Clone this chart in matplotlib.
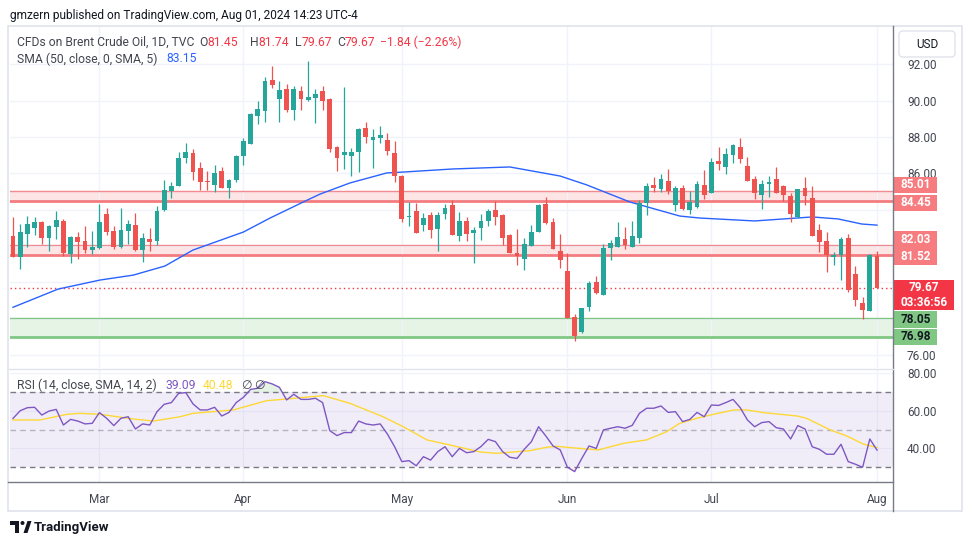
"""Brent crude daily candles with SMA 50 and RSI panel, TradingView look."""

import matplotlib
matplotlib.use("Agg")
import matplotlib.pyplot as plt
import matplotlib.transforms as mtransforms
from matplotlib.patches import Rectangle, FancyBboxPatch, Polygon, Circle
import numpy as np

# ---- data (bar index 0 = first visible session) ----
opens = [82.55, 81.41, 82.66, 83.01, 83.32, 82.46, 83.06, 83.38, 81.58, 82.50,
         82.27, 81.80, 81.89, 83.76, 82.83, 81.96, 82.83, 83.16, 81.78, 82.39,
         82.27, 83.98, 85.04, 85.32, 86.86, 87.10, 86.28, 85.56, 85.36, 86.13,
         85.21, 85.63, 86.97, 87.63, 89.17, 89.45, 91.14, 90.11, 90.64, 89.48,
         90.53, 90.05, 90.12, 90.53, 90.11, 87.45, 87.02, 86.97, 87.19, 88.49,
         87.85, 87.96, 87.83, 87.12, 85.85, 83.60, 83.94, 83.16, 83.71, 82.94,
         83.76, 84.26, 82.55, 83.38, 82.73, 83.01, 83.39, 83.98, 83.71, 82.61,
         81.61, 81.30, 82.00, 82.79, 84.31, 83.32, 81.72, 80.62, 78.09, 77.27,
         78.66, 80.02, 79.32, 81.91, 81.96, 82.39, 81.96, 82.46, 84.38, 85.36,
         85.14, 85.58, 84.26, 85.19, 84.00, 84.16, 85.36, 84.90, 86.68, 86.36,
         87.02, 87.45, 86.40, 85.69, 84.81, 85.41, 85.69, 85.30, 84.75, 83.60,
         85.19, 84.64, 82.88, 82.28, 81.39, 81.50, 82.44, 80.46, 78.86, 78.42,
         81.45]
highs = [83.58, 83.21, 83.65, 83.60, 83.40, 83.15, 83.93, 83.49, 82.55, 82.77,
         83.10, 82.83, 84.31, 84.09, 83.10, 84.09, 83.43, 83.82, 82.72, 82.99,
         84.20, 85.63, 85.54, 87.19, 87.67, 87.32, 86.62, 86.13, 86.46, 86.36,
         85.68, 87.00, 87.96, 89.30, 89.98, 91.30, 91.91, 91.08, 90.90, 90.80,
         90.83, 92.18, 90.63, 90.79, 90.17, 87.50, 90.75, 87.40, 88.49, 88.82,
         88.44, 88.60, 88.20, 87.78, 85.90, 84.44, 84.37, 83.82, 83.87, 83.87,
         84.31, 84.53, 83.87, 83.60, 83.05, 83.76, 84.04, 84.48, 83.75, 82.65,
         82.94, 82.44, 83.16, 84.31, 84.70, 83.54, 82.66, 81.61, 78.25, 78.59,
         80.07, 80.35, 82.11, 82.35, 83.32, 83.05, 83.38, 84.53, 85.47, 85.80,
         85.96, 86.24, 85.30, 85.36, 85.03, 85.58, 86.18, 86.84, 87.45, 87.39,
         87.60, 87.94, 86.90, 85.86, 85.63, 85.86, 86.35, 85.36, 84.92, 85.14,
         85.80, 85.30, 83.21, 82.77, 81.67, 82.50, 82.66, 80.90, 79.19, 81.56,
         81.74]
lows = [81.40, 80.75, 81.96, 82.60, 82.13, 81.74, 82.40, 81.45, 81.08, 81.30,
        81.63, 81.58, 81.85, 82.60, 81.82, 81.89, 82.11, 81.73, 81.14, 81.73,
        82.05, 83.90, 84.66, 85.30, 86.55, 85.63, 85.08, 85.08, 84.99, 85.20,
        84.66, 85.54, 86.46, 87.60, 88.71, 88.84, 90.71, 88.84, 89.36, 88.92,
        89.48, 90.00, 88.77, 89.48, 87.19, 86.13, 86.24, 85.87, 86.09, 87.69,
        86.31, 87.69, 87.02, 85.54, 83.34, 83.10, 82.70, 82.83, 82.44, 81.73,
        83.49, 82.60, 82.28, 82.28, 81.08, 82.33, 83.10, 83.15, 82.06, 81.60,
        80.97, 80.68, 82.00, 82.79, 83.20, 81.85, 80.81, 78.04, 76.77, 77.20,
        78.44, 79.36, 79.32, 81.25, 81.96, 81.83, 81.96, 82.18, 83.72, 84.99,
        85.00, 84.86, 83.93, 83.99, 83.77, 84.10, 84.59, 84.90, 86.20, 85.98,
        86.58, 86.55, 85.59, 84.59, 84.04, 84.70, 84.90, 84.48, 83.32, 83.54,
        84.26, 82.55, 81.67, 80.57, 80.95, 80.13, 79.47, 78.70, 78.00, 78.42,
        79.67]
closes = [81.41, 82.77, 83.21, 83.32, 82.46, 83.10, 83.43, 81.63, 82.50, 82.22,
          81.78, 81.94, 83.32, 82.77, 81.96, 82.88, 83.21, 81.78, 82.44, 82.22,
          83.93, 85.08, 85.30, 86.83, 87.17, 86.09, 85.54, 85.52, 86.02, 85.21,
          85.63, 86.95, 87.78, 89.26, 89.54, 91.08, 90.88, 90.59, 89.48, 90.66,
          90.09, 90.20, 90.37, 89.98, 87.34, 86.83, 87.17, 87.17, 88.44, 88.02,
          88.00, 88.11, 87.24, 85.87, 83.50, 83.66, 82.73, 83.54, 82.88, 83.71,
          84.09, 82.61, 83.38, 82.66, 82.88, 83.38, 83.93, 83.61, 82.46, 81.63,
          81.47, 82.11, 82.77, 84.26, 83.28, 81.85, 81.25, 78.04, 77.05, 78.59,
          79.96, 79.41, 81.89, 82.17, 82.50, 82.06, 82.55, 84.37, 85.30, 85.21,
          85.69, 85.03, 85.19, 84.04, 84.42, 85.41, 84.81, 86.62, 86.53, 87.06,
          87.56, 86.80, 85.59, 84.93, 85.41, 85.52, 84.93, 84.81, 83.76, 85.14,
          84.75, 82.55, 82.22, 81.50, 81.50, 82.39, 79.58, 79.03, 78.48, 81.51,
          79.67]

sma_bars = [0, 6.25, 12.1, 16.7, 21.1, 25, 32, 35.7, 40.3, 42.6, 46.8, 51.9,
            54.2, 61.1, 69, 76, 79.7, 85.7, 92.6, 95.4, 103, 111, 114.6, 117.9, 120]
sma_vals = [78.63, 79.63, 80.13, 80.40, 80.90, 81.78, 82.77, 83.54, 84.42, 84.85,
            85.47, 86.02, 86.07, 86.24, 86.35, 85.85, 85.36, 84.42, 83.65, 83.54,
            83.38, 83.60, 83.49, 83.21, 83.15]

rsi_vals = [55.9, 60.0, 61.6, 61.8, 57.7, 59.8, 60.7, 52.4, 55.4, 54.5,
            53.0, 53.3, 59.0, 56.0, 52.1, 56.0, 56.8, 50.3, 53.0, 52.4,
            59.5, 63.4, 64.3, 69.2, 69.6, 63.6, 60.4, 60.4, 61.8, 57.2,
            59.1, 64.3, 67.1, 71.3, 71.9, 75.4, 74.2, 72.4, 65.7, 68.7,
            66.0, 66.0, 66.6, 64.3, 49.4, 46.8, 48.4, 48.4, 54.5, 53.0,
            52.4, 53.0, 47.6, 40.9, 33.0, 33.5, 30.8, 35.6, 33.8, 38.3,
            40.9, 35.6, 40.0, 37.7, 38.3, 41.0, 44.8, 43.6, 38.3, 35.3,
            34.7, 39.5, 43.6, 51.5, 46.6, 41.3, 39.2, 30.0, 27.7, 34.7,
            41.3, 40.0, 49.8, 50.7, 51.5, 50.7, 52.2, 58.6, 61.3, 61.3,
            62.5, 59.1, 59.5, 54.2, 55.4, 59.1, 56.8, 63.0, 62.8, 64.3,
            66.0, 61.6, 55.1, 51.5, 53.7, 54.2, 51.0, 50.3, 45.0, 52.1,
            50.3, 40.9, 39.5, 36.9, 36.9, 42.2, 33.0, 31.6, 30.0, 45.0,
            39.09]

rsi_ma_bars = [0, 3.75, 7.5, 9.3, 12.1, 16.7, 19.5, 23.2, 25, 30.6, 35.2, 38,
               43.1, 46.8, 51.4, 54.2, 57.5, 60.7, 64.9, 67.2, 71.8, 74.1, 75.5,
               78.7, 81.3, 84.8, 88, 90.8, 92.6, 95, 97.3, 100.1, 101.9, 104.2,
               108.9, 110.2, 113.5, 115.8, 118.1, 120]
rsi_ma_vals = [55.1, 55.1, 58.1, 58.6, 58.1, 55.6, 54.5, 56.8, 58.6, 60.4, 65.3,
               66.2, 68.0, 63.9, 56.8, 51.5, 44.5, 41.8, 38.1, 37.4, 38.8, 40.6,
               41.1, 40.0, 39.2, 42.7, 44.5, 48.9, 53.3, 56.0, 58.1, 60.4, 60.4,
               59.0, 57.2, 56.0, 49.8, 46.6, 42.3, 40.48]

month_labels = ["Mar", "Apr", "May", "Jun", "Jul", "Aug"]
month_bars = [12, 32, 54, 77, 97, 120]
price_ticks = [76, 78, 80, 82, 84, 86, 88, 90, 92]
hidden_price_ticks = [78, 80, 82, 84]   # covered by the price tags
rsi_ticks = [40, 60, 80]

resistance_zones = [(84.45, 85.01), (81.52, 82.03)]
support_zone = (76.98, 78.05)
last_price = 79.67
sma_last = 83.15
rsi_last, rsi_ma_last = 39.09, 40.48

GREEN = "#26a69a"
RED = "#ef5350"
GRID = "#f0f3fa"
TXT = "#131722"
AXTXT = "#434651"

plt.rcParams["font.family"] = ["Roboto", "DejaVu Sans"]

W, H = 970, 545
fig = plt.figure(figsize=(W / 100, H / 100), dpi=100)
fig.patch.set_facecolor("white")


def px_axes(x0, y0, x1, y1):
    """Axes from pixel box (top-left origin)."""
    return fig.add_axes([x0 / W, 1 - y1 / H, (x1 - x0) / W, (y1 - y0) / H])


main = px_axes(10, 27, 893, 368)
rsi = px_axes(10, 370, 893, 482)

n = len(closes)
idx = np.arange(n)
o, h, l, c = (np.array(a) for a in (opens, highs, lows, closes))
cols = np.where(c >= o, GREEN, RED)

# ---- main pane ----
for lo, hi in resistance_zones:
    main.axhspan(lo, hi, color="#fde4e5", lw=0, zorder=0.5)
    main.axhline(hi, color="#f28b8f", lw=1.0, zorder=0.6)
    main.axhline(lo, color="#f47c80", lw=2.0, zorder=0.6)
main.axhspan(*support_zone, color="#e6f4e6", lw=0, zorder=0.5)
main.axhline(support_zone[1], color="#81c784", lw=1.0, zorder=0.6)
main.axhline(support_zone[0], color="#81c784", lw=2.0, zorder=0.6)

main.axhline(last_price, color="#f23645", lw=1.0, ls=(0, (1, 2.2)), zorder=1)
main.plot(sma_bars, sma_vals, color="#2962ff", lw=1.0, zorder=2)

main.vlines(idx, l, h, colors=cols, lw=0.9, zorder=3)
body_lo = np.minimum(o, c)
body_h = np.maximum(np.abs(c - o), 0.06)
main.bar(idx, body_h, bottom=body_lo, width=0.66, color=cols, lw=0, zorder=4)

main.set_xlim(-0.417, 122.22)
main.set_ylim(75.29, 94.05)
main.set_xticks(month_bars)
main.set_yticks(price_ticks)
main.set_yticklabels(["" if v in hidden_price_ticks else f"{v:.2f}"
                      for v in price_ticks])
main.yaxis.tick_right()
main.tick_params(axis="x", length=0, labelbottom=False)
main.tick_params(axis="y", length=0, pad=10, labelsize=8.5, labelcolor=AXTXT)
main.grid(True, color=GRID, lw=1)
main.set_axisbelow(True)
for s in main.spines.values():
    s.set_visible(False)

# price tags on the right axis
base = mtransforms.blended_transform_factory(main.transAxes, main.transData)


def price_tag(price, lines, fc, tc, dy=0, w=43, hgt=16.5):
    tr = mtransforms.Affine2D() + mtransforms.ScaledTranslation(1.0, price, base)
    main.add_patch(Rectangle((1, dy - hgt / 2), w, hgt, transform=tr, fc=fc,
                             ec="none", clip_on=False, zorder=8))
    step = hgt / len(lines)
    for k, s in enumerate(lines):
        yy = dy + hgt / 2 - step * (k + 0.5)
        main.text(w / 2 + 1, yy, s, transform=tr, ha="center", va="center",
                  color=tc, fontsize=8.5, fontweight="bold", clip_on=False,
                  zorder=9)


price_tag(85.01, ["85.01"], "#f77c80", "white", dy=6.5)
price_tag(84.45, ["84.45"], "#f77c80", "white", dy=-1.5)
price_tag(82.03, ["82.03"], "#f77c80", "white", dy=6)
price_tag(81.52, ["81.52"], "#f77c80", "white", dy=-1.5)
price_tag(last_price, ["79.67", "03:36:56"], "#f23645", "white", dy=-7,
          w=60, hgt=30)
price_tag(78.05, ["78.05"], "#81c784", TXT, dy=-1.5)
price_tag(76.98, ["76.98"], "#81c784", TXT, dy=0.5)

# ---- RSI pane ----
rsi.axhspan(30, 70, color="#7e57c2", alpha=0.1, lw=0)
rsi.axhline(70, color="#787b86", lw=1, ls=(0, (4, 3)))
rsi.axhline(50, color="#787b86", lw=1, ls=(0, (4, 3)), alpha=0.5)
rsi.axhline(30, color="#787b86", lw=1, ls=(0, (4, 3)))
rv = np.array(rsi_vals)
rsi.fill_between(idx, rv, 70, where=rv > 70, interpolate=True,
                 color="#4caf50", alpha=0.15, lw=0)
rsi.fill_between(idx, rv, 30, where=rv < 30, interpolate=True,
                 color="#f23645", alpha=0.12, lw=0)
rsi.plot(rsi_ma_bars, rsi_ma_vals, color="#fdd835", lw=1.0)
rsi.plot(idx, rv, color="#7e57c2", lw=1.0)

rsi.set_xlim(main.get_xlim())
rsi.set_ylim(22.18, 81.59)
rsi.set_xticks(month_bars)
rsi.set_xticklabels(month_labels)
rsi.set_yticks(rsi_ticks)
rsi.set_yticklabels([f"{v:.2f}" for v in rsi_ticks])
rsi.yaxis.tick_right()
rsi.tick_params(axis="x", length=0, pad=8, labelsize=8.5, labelcolor=AXTXT)
rsi.tick_params(axis="y", length=0, pad=10, labelsize=8.5, labelcolor=AXTXT)
rsi.grid(True, color=GRID, lw=1)
rsi.set_axisbelow(True)
for s in rsi.spines.values():
    s.set_visible(False)

# ---- overlay: frame, header texts, logo ----
ov = fig.add_axes([0, 0, 1, 1])
ov.set_xlim(0, W)
ov.set_ylim(H, 0)
ov.axis("off")
ov.patch.set_alpha(0)

ov.add_patch(Rectangle((8, 26), 954, 485, fc="none", ec="#e0e3eb", lw=1.2))
ov.plot([893, 893], [26, 511], color="#787b86", lw=1)
ov.plot([8, 893], [482, 482], color="#787b86", lw=1)
ov.plot([8, 893], [369, 369], color="#e0e3eb", lw=1)

ov.add_patch(FancyBboxPatch((899, 31), 56, 26,
                            boxstyle="round,pad=0,rounding_size=4",
                            fc="white", ec="#e0e3eb", lw=1))
ov.text(927, 44.5, "USD", ha="center", va="center", fontsize=8.5, color=TXT)

ov.text(10, 15, "gmzern published on TradingView.com, Aug 01, 2024 14:23 UTC-4",
        ha="left", va="center", fontsize=8.6, color=TXT)


def put(x, y, s, color, size=8.7):
    ov.text(x, y, s, ha="left", va="center", fontsize=size, color=color)


put(17, 42, "CFDs on Brent Crude Oil, 1D, TVC", AXTXT)
put(199, 42, "O", AXTXT)
put(207, 42, f"{opens[-1]:.2f}", "#f23645")
put(250, 42, "H", AXTXT)
put(258, 42, f"{highs[-1]:.2f}", "#f23645")
put(295, 42, "L", AXTXT)
put(302, 42, f"{lows[-1]:.2f}", "#f23645")
put(337, 42, "C", AXTXT)
put(345, 42, f"{closes[-1]:.2f}", "#f23645")
put(380, 42, "\u22121.84 (\u22122.26%)", "#f23645")
put(17, 59, "SMA (50, close, 0, SMA, 5)", AXTXT)
put(166, 59, f"{sma_last:.2f}", "#2962ff")
put(17, 385.5, "RSI (14, close, SMA, 14, 2)", AXTXT)
put(166, 385.5, f"{rsi_last:.2f}", "#7e57c2")
put(203, 385.5, f"{rsi_ma_last:.2f}", "#fdd835")
put(241, 385.5, "\u2205", AXTXT)
put(254, 385.5, "\u2205", AXTXT)

# TradingView logo
ov.add_patch(Polygon([(10, 521), (19, 521), (19, 533), (15, 533), (15, 525),
                      (10, 525)], closed=True, fc=TXT, ec="none"))
ov.add_patch(Circle((22.5, 523), 2.0, fc=TXT, ec="none"))
ov.add_patch(Polygon([(23.5, 533), (27.5, 521), (31.5, 521), (27.5, 533)],
                     closed=True, fc=TXT, ec="none"))
ov.text(34, 527.5, "TradingView", ha="left", va="center", fontsize=9.5,
        fontweight="bold", color=TXT)

fig.savefig("out.png", dpi=100)
